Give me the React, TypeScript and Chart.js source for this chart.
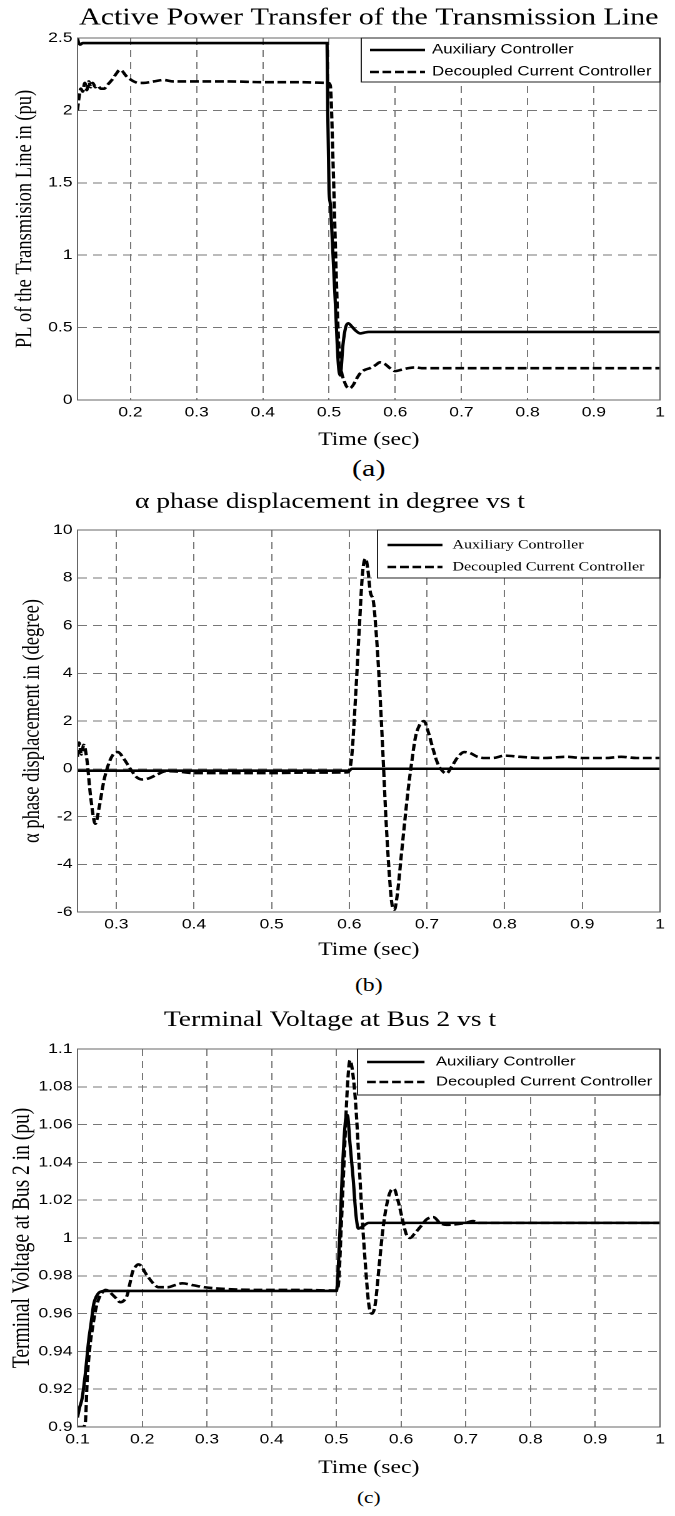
import React, { useEffect, useRef } from "react";
import { Chart, registerables } from "chart.js";

Chart.register(...registerables);

// The reference figure is horizontally stretched; draw at a logical width and stretch.
const STRETCH = 1.25;
const LOGICAL_W = 540;
const SERIF = '"Liberation Serif", "Times New Roman", serif';
const SANS = '"Liberation Sans", Arial, sans-serif';

const seriesNames = ["Auxiliary Controller", "Decoupled Current Controller"];
const xAxisTitle = "Time (sec)";

// ---------------- (a) Active power ----------------
const titleA = "Active Power Transfer of the Transmission Line";
const yTitleA = "PL of the Transmision Line in (pu)";
const xTicksA = [0.2, 0.3, 0.4, 0.5, 0.6, 0.7, 0.8, 0.9, 1];
const xTickLabelsA = ["0.2", "0.3", "0.4", "0.5", "0.6", "0.7", "0.8", "0.9", "1"];
const yTicksA = [0, 0.5, 1, 1.5, 2, 2.5];
const yTickLabelsA = ["0", "0.5", "1", "1.5", "2", "2.5"];
const timeAuxA = [0.12, 0.1215, 0.124, 0.128, 0.2, 0.3, 0.4, 0.497, 0.498, 0.5, 0.502, 0.506, 0.51, 0.514, 0.517, 0.521, 0.525, 0.529, 0.534, 0.54, 0.547, 0.553, 0.56, 0.6, 0.7, 0.8, 0.9, 1.0];
const powerAuxA = [2.5, 2.47, 2.455, 2.465, 2.465, 2.465, 2.465, 2.465, 2.0, 1.45, 1.35, 1.0, 0.62, 0.25, 0.17, 0.38, 0.5, 0.53, 0.51, 0.48, 0.46, 0.465, 0.47, 0.47, 0.47, 0.47, 0.47, 0.47];
const timeDccA = [0.12, 0.122, 0.125, 0.128, 0.131, 0.134, 0.137, 0.14, 0.143, 0.147, 0.151, 0.155, 0.16, 0.166, 0.172, 0.178, 0.184, 0.188, 0.193, 0.198, 0.205, 0.212, 0.22, 0.235, 0.25, 0.265, 0.3, 0.35, 0.4, 0.45, 0.499, 0.502, 0.506, 0.51, 0.514, 0.518, 0.523, 0.527, 0.531, 0.536, 0.542, 0.548, 0.555, 0.562, 0.57, 0.577, 0.584, 0.592, 0.6, 0.61, 0.62, 0.63, 0.64, 0.65, 0.7, 0.8, 0.9, 1.0];
const powerDccA = [2.0, 2.08, 2.15, 2.13, 2.19, 2.14, 2.2, 2.16, 2.19, 2.16, 2.17, 2.15, 2.15, 2.18, 2.21, 2.25, 2.28, 2.27, 2.24, 2.22, 2.2, 2.19, 2.19, 2.2, 2.21, 2.2, 2.2, 2.2, 2.195, 2.195, 2.19, 2.17, 1.65, 1.0, 0.45, 0.22, 0.13, 0.09, 0.08, 0.1, 0.15, 0.19, 0.21, 0.22, 0.24, 0.26, 0.25, 0.22, 0.2, 0.21, 0.22, 0.225, 0.22, 0.22, 0.22, 0.22, 0.22, 0.22];

// ---------------- (b) Phase displacement ----------------
const titleB = "\u03b1 phase displacement in degree vs t";
const yTitleB = "\u03b1 phase displacement in (degree)";
const xTicksB = [0.3, 0.4, 0.5, 0.6, 0.7, 0.8, 0.9, 1];
const xTickLabelsB = ["0.3", "0.4", "0.5", "0.6", "0.7", "0.8", "0.9", "1"];
const yTicksB = [-6, -4, -2, 0, 2, 4, 6, 8, 10];
const yTickLabelsB = ["-6", "-4", "-2", "0", "2", "4", "6", "8", "10"];
const timeAuxB = [0.25, 0.4, 0.5, 0.6, 0.603, 0.7, 0.8, 0.9, 1.0];
const phaseAuxB = [-0.08, -0.08, -0.08, -0.08, 0, 0, 0, 0, 0];
const timeDccB = [0.25, 0.252, 0.255, 0.258, 0.262, 0.267, 0.273, 0.278, 0.284, 0.29, 0.296, 0.302, 0.31, 0.318, 0.326, 0.334, 0.342, 0.352, 0.364, 0.38, 0.4, 0.45, 0.5, 0.55, 0.598, 0.603, 0.608, 0.613, 0.617, 0.621, 0.624, 0.627, 0.631, 0.635, 0.639, 0.643, 0.647, 0.651, 0.655, 0.658, 0.662, 0.667, 0.672, 0.676, 0.68, 0.685, 0.69, 0.696, 0.702, 0.708, 0.714, 0.72, 0.725, 0.732, 0.74, 0.748, 0.756, 0.765, 0.775, 0.785, 0.8, 0.82, 0.85, 0.88, 0.9, 0.93, 0.95, 0.97, 1.0];
const phaseDccB = [0.5, 1.1, 0.6, 1.0, 0.4, -1.2, -2.3, -1.6, -0.5, 0.2, 0.6, 0.7, 0.4, 0.0, -0.35, -0.45, -0.4, -0.25, -0.1, -0.12, -0.18, -0.18, -0.18, -0.16, -0.15, 0.5, 3.0, 6.0, 8.2, 8.8, 8.3, 7.4, 7.0, 5.5, 3.4, 0.8, -2.0, -4.2, -5.7, -5.9, -5.2, -3.6, -2.0, -0.8, 0.2, 1.3, 1.8, 2.0, 1.5, 0.8, 0.2, -0.1, -0.2, 0.1, 0.5, 0.7, 0.65, 0.5, 0.45, 0.45, 0.55, 0.5, 0.45, 0.5, 0.45, 0.45, 0.5, 0.45, 0.45];

// ---------------- (c) Terminal voltage ----------------
const titleC = "Terminal Voltage at Bus 2 vs t";
const yTitleC = "Terminal Voltage at Bus 2 in (pu)";
const xTicksC = [0.1, 0.2, 0.3, 0.4, 0.5, 0.6, 0.7, 0.8, 0.9, 1];
const xTickLabelsC = ["0.1", "0.2", "0.3", "0.4", "0.5", "0.6", "0.7", "0.8", "0.9", "1"];
const yTicksC = [0.9, 0.92, 0.94, 0.96, 0.98, 1, 1.02, 1.04, 1.06, 1.08, 1.1];
const yTickLabelsC = ["0.9", "0.92", "0.94", "0.96", "0.98", "1", "1.02", "1.04", "1.06", "1.08", "1.1"];
const timeAuxC = [0.1, 0.103, 0.107, 0.112, 0.117, 0.121, 0.125, 0.129, 0.135, 0.145, 0.2, 0.3, 0.4, 0.5, 0.505, 0.509, 0.514, 0.517, 0.521, 0.526, 0.53, 0.534, 0.54, 0.55, 0.6, 0.7, 0.8, 0.9, 1.0];
const voltAuxC = [0.905, 0.91, 0.915, 0.928, 0.945, 0.955, 0.965, 0.969, 0.9715, 0.972, 0.972, 0.972, 0.972, 0.972, 1.0, 1.034, 1.062, 1.065, 1.05, 1.031, 1.013, 1.005, 1.006, 1.008, 1.008, 1.008, 1.008, 1.008, 1.008];
const timeDccC = [0.1, 0.108, 0.112, 0.115, 0.119, 0.123, 0.128, 0.133, 0.138, 0.143, 0.148, 0.154, 0.16, 0.166, 0.172, 0.177, 0.181, 0.185, 0.19, 0.194, 0.199, 0.204, 0.21, 0.217, 0.225, 0.24, 0.25, 0.262, 0.279, 0.295, 0.33, 0.4, 0.45, 0.5, 0.503, 0.508, 0.513, 0.517, 0.521, 0.525, 0.53, 0.535, 0.54, 0.545, 0.55, 0.555, 0.56, 0.566, 0.572, 0.578, 0.584, 0.589, 0.595, 0.602, 0.608, 0.614, 0.62, 0.63, 0.64, 0.65, 0.66, 0.67, 0.7, 0.711, 0.72, 0.8, 0.9, 1.0];
const voltDccC = [0.9, 0.9, 0.902, 0.925, 0.942, 0.952, 0.962, 0.968, 0.971, 0.9725, 0.972, 0.97, 0.968, 0.966, 0.967, 0.97, 0.976, 0.982, 0.985, 0.986, 0.985, 0.982, 0.979, 0.976, 0.974, 0.974, 0.975, 0.976, 0.975, 0.974, 0.973, 0.9725, 0.9725, 0.9722, 0.975, 1.01, 1.05, 1.08, 1.094, 1.088, 1.07, 1.04, 1.01, 0.985, 0.965, 0.96, 0.965, 0.985, 1.005, 1.018, 1.025, 1.026, 1.02, 1.01, 1.002, 1.0, 1.002, 1.006, 1.01, 1.011, 1.008, 1.007, 1.008, 1.009, 1.008, 1.008, 1.008, 1.008];

const zip = (xs: number[], ys: number[]) => xs.map((x, i) => ({ x, y: ys[i] }));

const matlabPlugin = {
  id: "matlabBox",
  afterDatasetsDraw(chart: any, _args: any, opts: any) {
    const { ctx, chartArea: a } = chart;
    ctx.save();
    ctx.setLineDash([]);
    ctx.strokeStyle = "#666";
    ctx.lineWidth = 1;
    ctx.strokeRect(a.left, a.top, a.right - a.left, a.bottom - a.top);
    const L = opts.legend;
    const x0 = a.right - L.width;
    const y0 = a.top;
    ctx.fillStyle = "#fff";
    ctx.fillRect(x0, y0, L.width, L.height);
    ctx.strokeStyle = "#222";
    ctx.strokeRect(x0, y0, L.width, L.height);
    chart.data.datasets.forEach((ds: any, i: number) => {
      const y = y0 + L.firstRow + i * L.rowGap;
      ctx.beginPath();
      ctx.setLineDash(ds.borderDash || []);
      ctx.lineWidth = ds.borderWidth;
      ctx.strokeStyle = ds.borderColor;
      ctx.moveTo(x0 + L.lineX, y);
      ctx.lineTo(x0 + L.lineX + L.lineLen, y);
      ctx.stroke();
      ctx.setLineDash([]);
      ctx.fillStyle = "#000";
      ctx.font = L.font;
      ctx.textAlign = "left";
      ctx.textBaseline = "middle";
      ctx.fillText(ds.label, x0 + L.textX, y);
    });
    ctx.restore();
  },
};

function buildConfig(p: any): any {
  return {
    type: "line",
    data: {
      datasets: [
        { label: seriesNames[0], data: zip(p.tAux, p.vAux), borderColor: "#000", borderWidth: 2.6, pointRadius: 0, cubicInterpolationMode: "monotone", fill: false },
        { label: seriesNames[1], data: zip(p.tDcc, p.vDcc), borderColor: "#000", borderWidth: 2.6, borderDash: [7, 3], pointRadius: 0, cubicInterpolationMode: "monotone", fill: false },
      ],
    },
    options: {
      responsive: false,
      animation: false,
      devicePixelRatio: 2,
      layout: { padding: { left: 0, right: 12, top: 0, bottom: 0 } },
      plugins: {
        legend: { display: false },
        tooltip: { enabled: false },
        title: {
          display: true,
          text: p.title,
          fullSize: p.titleFull,
          color: "#000",
          font: { family: SERIF, size: p.titleSize, weight: "normal", lineHeight: 1.2 },
          padding: { top: p.titleTop, bottom: p.titleBottom },
        },
        matlabBox: { legend: p.legend },
      },
      scales: {
        x: {
          type: "linear",
          min: p.xMin,
          max: p.xMax,
          afterFit: (s: any) => { s.height = p.xAxisH; },
          afterBuildTicks: (s: any) => { s.ticks = p.xTicks.map((v: number) => ({ value: v })); },
          ticks: { callback: (_v: any, i: number) => p.xTickLabels[i], font: { family: SANS, size: 14 }, color: "#000", padding: 4, maxRotation: 0, autoSkip: false },
          grid: { color: "#777", lineWidth: 1, drawTicks: false },
          border: { display: true, color: "#666", dash: [7, 5] },
          title: { display: true, text: xAxisTitle, color: "#000", font: { family: SERIF, size: 19 }, padding: { top: 0, bottom: 0.6 } },
        },
        y: {
          type: "linear",
          min: p.yMin,
          max: p.yMax,
          afterFit: (s: any) => { s.width = 62; },
          afterBuildTicks: (s: any) => { s.ticks = p.yTicks.map((v: number) => ({ value: v })); },
          ticks: { callback: (_v: any, i: number) => p.yTickLabels[i], font: { family: SANS, size: 14 }, color: "#000", padding: 4, autoSkip: false },
          grid: { color: "#777", lineWidth: 1, drawTicks: false },
          border: { display: true, color: "#666", dash: [7, 5] },
          title: { display: true, text: p.yTitle, color: "#000", font: { family: SERIF, size: p.yTitleSize }, padding: { top: p.yTitlePad, bottom: 0 } },
        },
      },
    },
    plugins: [matlabPlugin],
  };
}

const panels = [
  {
    top: 0, height: 452, title: titleA, titleSize: 24, titleTop: 3.6, titleBottom: 5.6, titleFull: false, xAxisH: 52,
    xMin: 0.12, xMax: 1, yMin: 0, yMax: 2.5, xTicks: xTicksA, xTickLabels: xTickLabelsA, yTicks: yTicksA, yTickLabels: yTickLabelsA,
    yTitle: yTitleA, yTitleSize: 18.5, yTitlePad: 9, tAux: timeAuxA, vAux: powerAuxA, tDcc: timeDccA, vDcc: powerDccA,
    legend: { width: 239, height: 44, firstRow: 12, rowGap: 22, lineX: 7, lineLen: 44, textX: 56.6, font: `13.5px ${SANS}` },
    caption: "(a)", capY: 468, capSize: 24,
  },
  {
    top: 480, height: 482, title: titleB, titleSize: 22, titleTop: 8.8, titleBottom: 14.8, titleFull: true, xAxisH: 50,
    xMin: 0.25, xMax: 1, yMin: -6, yMax: 10, xTicks: xTicksB, xTickLabels: xTickLabelsB, yTicks: yTicksB, yTickLabels: yTickLabelsB,
    yTitle: yTitleB, yTitleSize: 18.5, yTitlePad: 15, tAux: timeAuxB, vAux: phaseAuxB, tDcc: timeDccB, vDcc: phaseDccB,
    legend: { width: 226, height: 48, firstRow: 15, rowGap: 22, lineX: 8, lineLen: 44, textX: 60, font: `12.8px ${SERIF}` },
    caption: "(b)", capY: 985, capSize: 19,
  },
  {
    top: 1000, height: 480, title: titleC, titleSize: 22, titleTop: 6.8, titleBottom: 15.8, titleFull: true, xAxisH: 53,
    xMin: 0.1, xMax: 1, yMin: 0.9, yMax: 1.1, xTicks: xTicksC, xTickLabels: xTickLabelsC, yTicks: yTicksC, yTickLabels: yTickLabelsC,
    yTitle: yTitleC, yTitleSize: 19.5, yTitlePad: 6, tAux: timeAuxC, vAux: voltAuxC, tDcc: timeDccC, vDcc: voltDccC,
    legend: { width: 242, height: 46, firstRow: 13, rowGap: 20, lineX: 7.6, lineLen: 46, textX: 62.8, font: `13.3px ${SANS}` },
    caption: "(c)", capY: 1498, capSize: 17,
  },
];

function Panel({ p }: { p: any }) {
  const ref = useRef<HTMLCanvasElement>(null);
  useEffect(() => {
    const chart = new Chart(ref.current as HTMLCanvasElement, buildConfig(p));
    return () => chart.destroy();
  }, []);
  return (
    <>
      <canvas
        ref={ref}
        width={LOGICAL_W}
        height={p.height}
        style={{ position: "absolute", left: 0, top: p.top, width: LOGICAL_W, height: p.height }}
      />
      <div
        style={{
          position: "absolute",
          left: 62,
          width: 466,
          top: p.capY - p.capSize * 0.6,
          textAlign: "center",
          fontFamily: SERIF,
          fontSize: p.capSize,
          lineHeight: `${p.capSize * 1.2}px`,
          color: "#000",
        }}
      >
        {p.caption}
      </div>
    </>
  );
}

export default function App() {
  useEffect(() => {
    document.documentElement.style.overflow = "hidden";
  }, []);
  return (
    <div
      style={{
        position: "absolute",
        left: 0,
        top: 0,
        width: LOGICAL_W,
        height: 1516,
        background: "#fff",
        transform: `scaleX(${STRETCH})`,
        transformOrigin: "0 0",
      }}
    >
      {panels.map((p, i) => (
        <Panel key={i} p={p} />
      ))}
    </div>
  );
}
